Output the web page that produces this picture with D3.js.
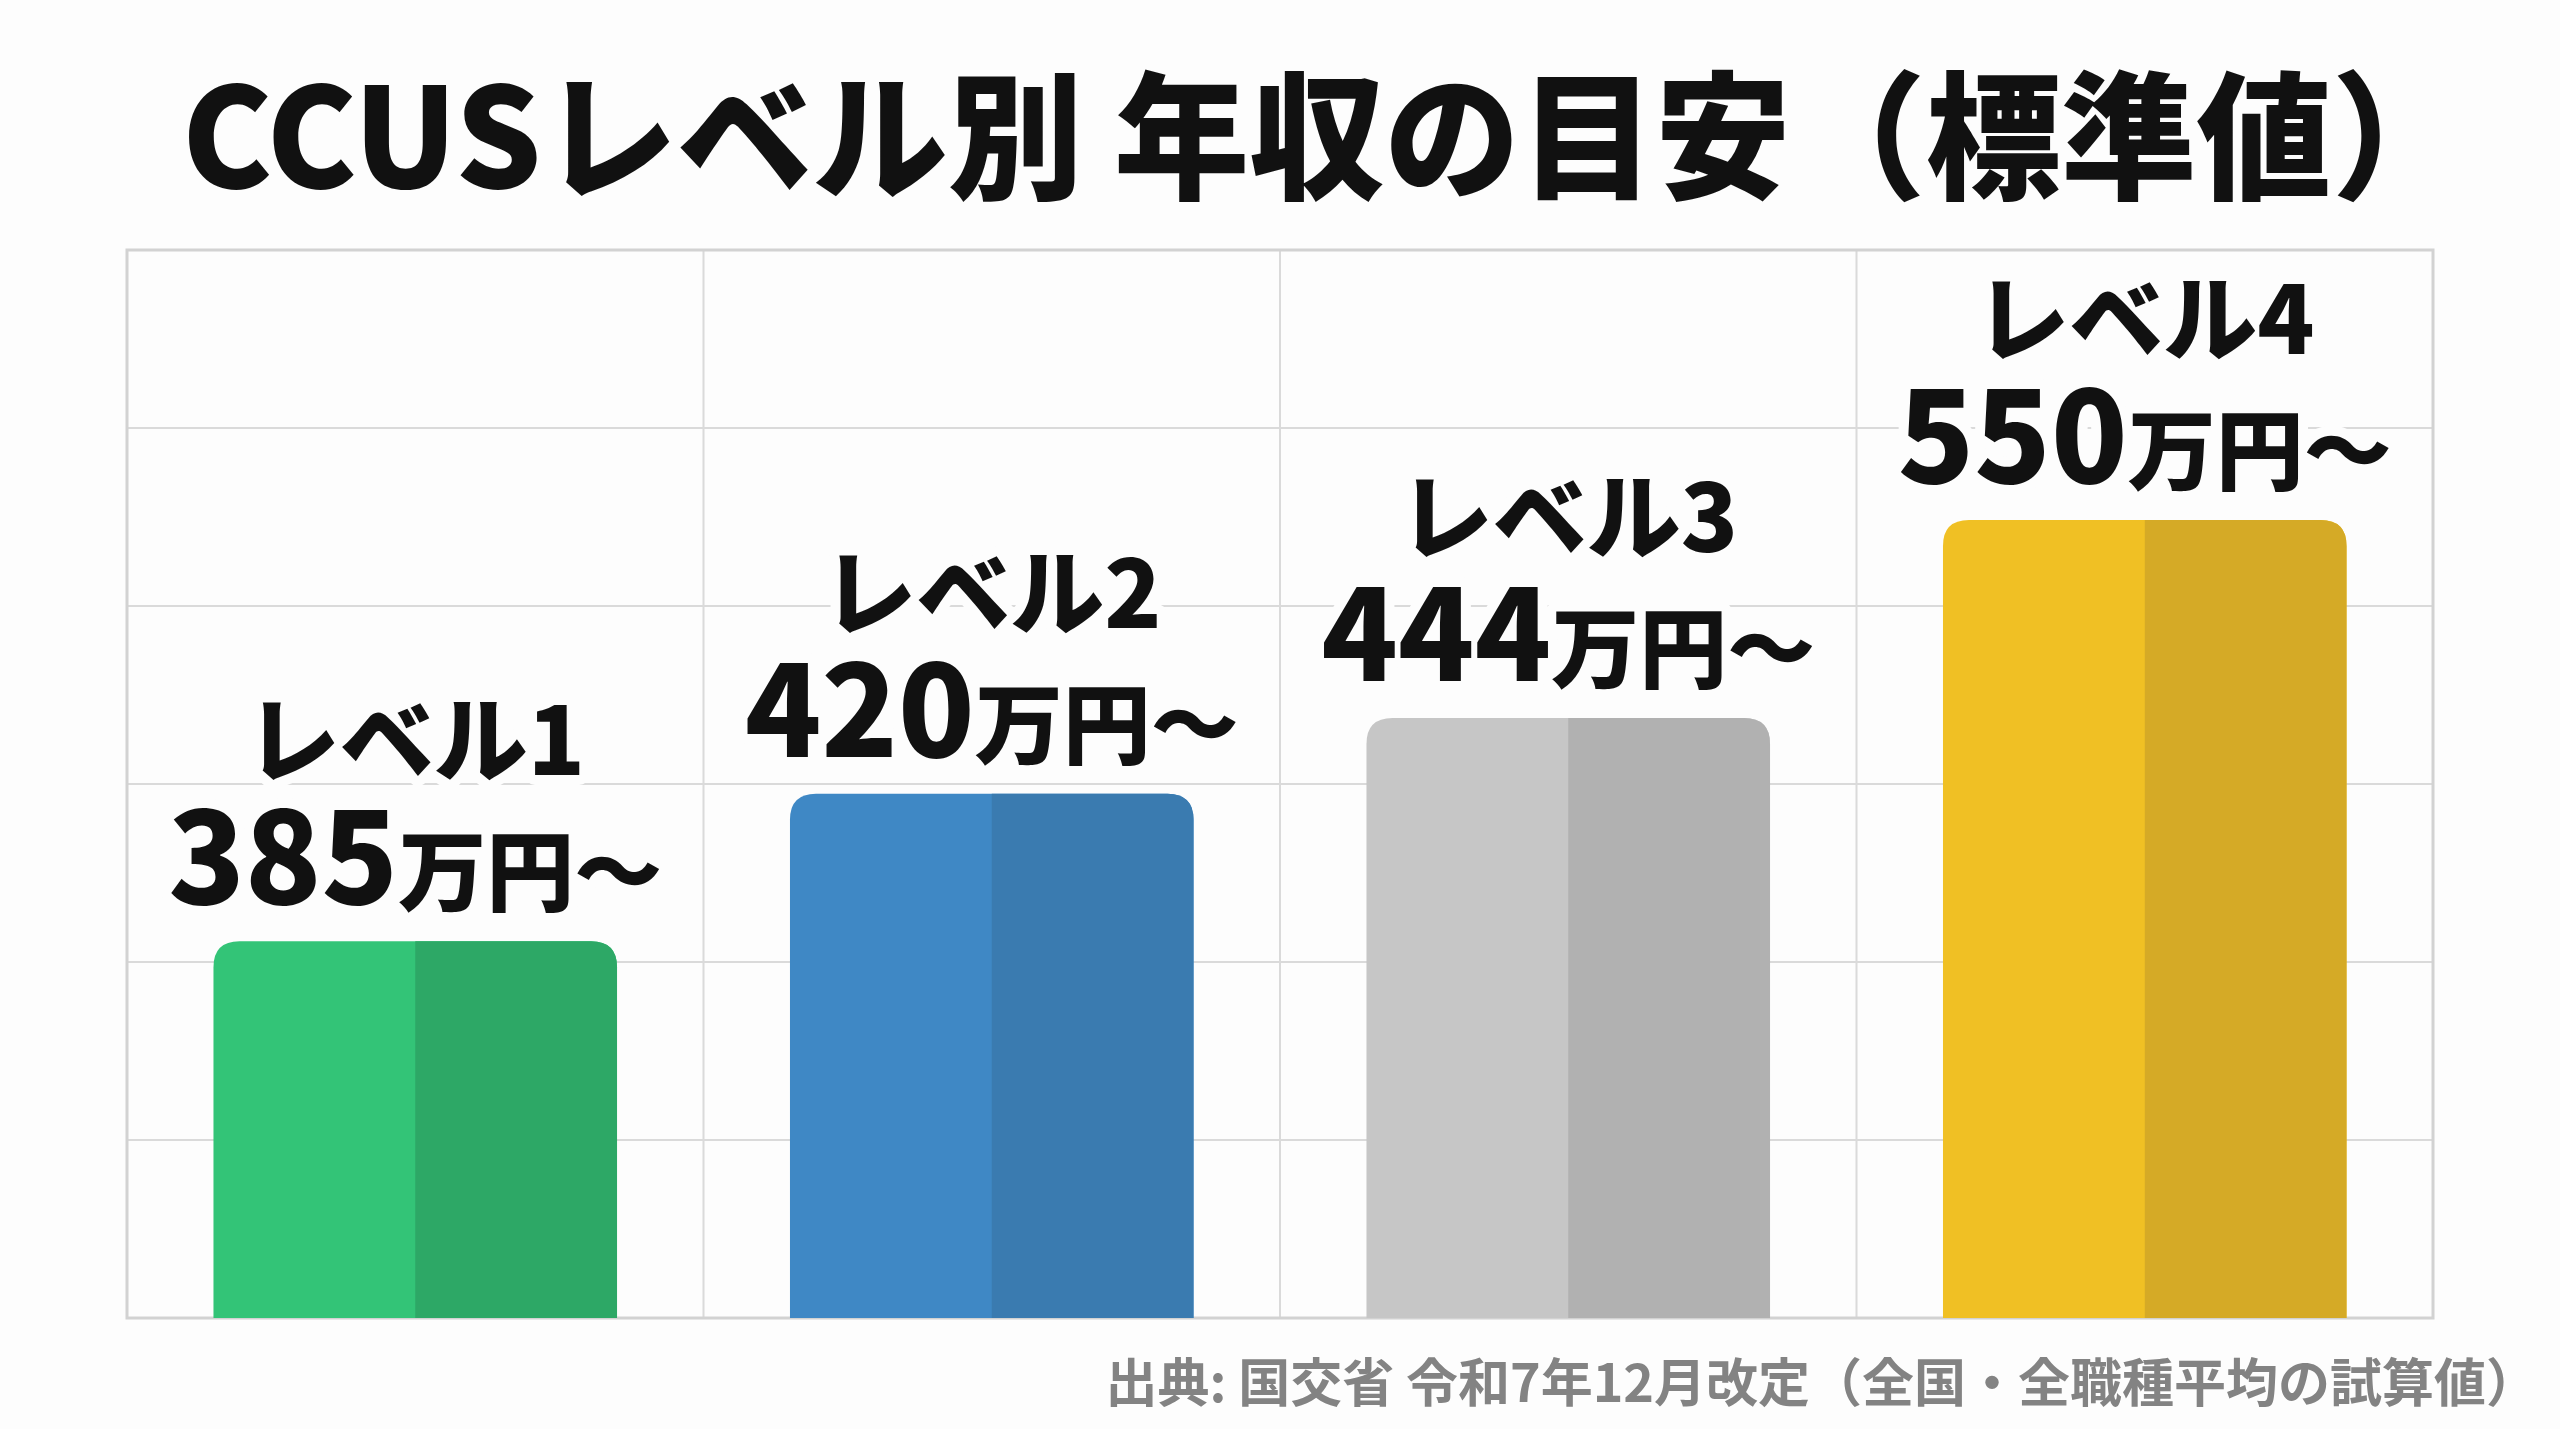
<!DOCTYPE html>
<meta charset="utf-8">
<style>
  html, body { margin: 0; padding: 0; background: #fdfdfd; }
  svg { display: block; }
  text { font-family: "Noto Sans CJK JP", "Noto Sans", sans-serif; }
</style>
<svg id="chart" width="2560" height="1429"></svg>
<script src="https://cdn.jsdelivr.net/npm/d3@7/dist/d3.min.js"></script>
<script>

// data
var levels = ["レベル1", "レベル2", "レベル3", "レベル4"];
var salaries = [385, 420, 444, 550];          // 万円
var leftColors = ["#33c477", "#3f88c5", "#c6c6c6", "#f0c024"];
var rightColors = ["#2da866", "#3a7bb0", "#b1b1b1", "#d5aa26"];
var unitLabel = "万円～";
var titleText = "CCUSレベル別 年収の目安（標準値）";
var sourceText = "出典: 国交省 令和7年12月改定（全国・全職種平均の試算値）";

var svg = d3.select("#chart"),
    width = +svg.attr("width"),
    height = +svg.attr("height");

var plot = {left: 127, right: 2433, top: 250, bottom: 1318};

var x = d3.scaleBand()
    .domain(levels)
    .range([plot.left, plot.right])
    .paddingInner(0.3)
    .paddingOuter(0.15);

// the picture isn't linear from zero, a pow scale with a raised floor fits it
var y = d3.scalePow()
    .exponent(-3)
    .domain([330, 550])
    .range([plot.bottom, 520]);

var rows = d3.scaleLinear().domain([0, 6]).range([plot.top, plot.bottom]);

// grid
var grid = svg.append("g").attr("stroke", "#dadada").attr("stroke-width", 2);
grid.selectAll("line.h")
    .data(d3.range(1, 6))
    .enter().append("line")
      .attr("x1", plot.left).attr("x2", plot.right)
      .attr("y1", function(d) { return rows(d); })
      .attr("y2", function(d) { return rows(d); });
grid.selectAll("line.v")
    .data(d3.range(1, levels.length))
    .enter().append("line")
      .attr("x1", function(d) { return plot.left + d * x.step(); })
      .attr("x2", function(d) { return plot.left + d * x.step(); })
      .attr("y1", plot.top).attr("y2", plot.bottom);
svg.append("rect")
    .attr("x", plot.left).attr("y", plot.top)
    .attr("width", plot.right - plot.left).attr("height", plot.bottom - plot.top)
    .attr("fill", "none").attr("stroke", "#d2d2d2").attr("stroke-width", 3);

// bar with rounded top corners
function topRounded(x0, y0, w, h, rl, rr) {
  return "M" + x0 + "," + (y0 + h) +
    "V" + (y0 + rl) +
    "Q" + x0 + "," + y0 + " " + (x0 + rl) + "," + y0 +
    "H" + (x0 + w - rr) +
    "Q" + (x0 + w) + "," + y0 + " " + (x0 + w) + "," + (y0 + rr) +
    "V" + (y0 + h) + "Z";
}

var r = 26;
var bars = svg.append("g")
  .selectAll("g")
  .data(salaries)
  .enter().append("g");

bars.append("path")
    .attr("fill", function(d, i) { return leftColors[i]; })
    .attr("d", function(d, i) {
      return topRounded(x(levels[i]), y(d), x.bandwidth(), plot.bottom - y(d), r, r);
    });
bars.append("path")
    .attr("fill", function(d, i) { return rightColors[i]; })
    .attr("d", function(d, i) {
      var bw = x.bandwidth() / 2;
      return topRounded(x(levels[i]) + bw, y(d), bw, plot.bottom - y(d), 0, r);
    });

// labels
var labels = svg.append("g")
  .selectAll("g")
  .data(salaries)
  .enter().append("g")
    .attr("text-anchor", "middle")
    .attr("font-weight", 900)
    .attr("fill", "#111")
    .attr("stroke", "#fdfdfd")
    .attr("stroke-width", 20)
    .attr("stroke-linejoin", "round")
    .attr("paint-order", "stroke");

var valueText = labels.append("text")
    .attr("x", function(d, i) { return x(levels[i]) + x.bandwidth() / 2; })
    .attr("y", function(d) { return y(d) - 37; });
valueText.append("tspan")
    .attr("font-size", 126)
    .text(function(d) { return d; });
valueText.append("tspan")
    .attr("font-size", 88)
    .text(unitLabel);

labels.append("text")
    .attr("x", function(d, i) { return x(levels[i]) + x.bandwidth() / 2; })
    .attr("y", function(d) { return y(d) - 166; })
    .attr("font-size", 94)
    .text(function(d, i) { return levels[i]; });

// title
svg.append("text")
    .attr("x", 182)
    .attr("y", 188)
    .attr("font-size", 138)
    .attr("font-weight", 900)
    .attr("fill", "#111")
    .attr("textLength", 2285)
    .attr("lengthAdjust", "spacingAndGlyphs")
    .text(titleText);

// source note
svg.append("text")
    .attr("x", 2538)
    .attr("y", 1402)
    .attr("text-anchor", "end")
    .attr("font-size", 52)
    .attr("font-weight", 700)
    .attr("fill", "#838383")
    .text(sourceText);

</script>
